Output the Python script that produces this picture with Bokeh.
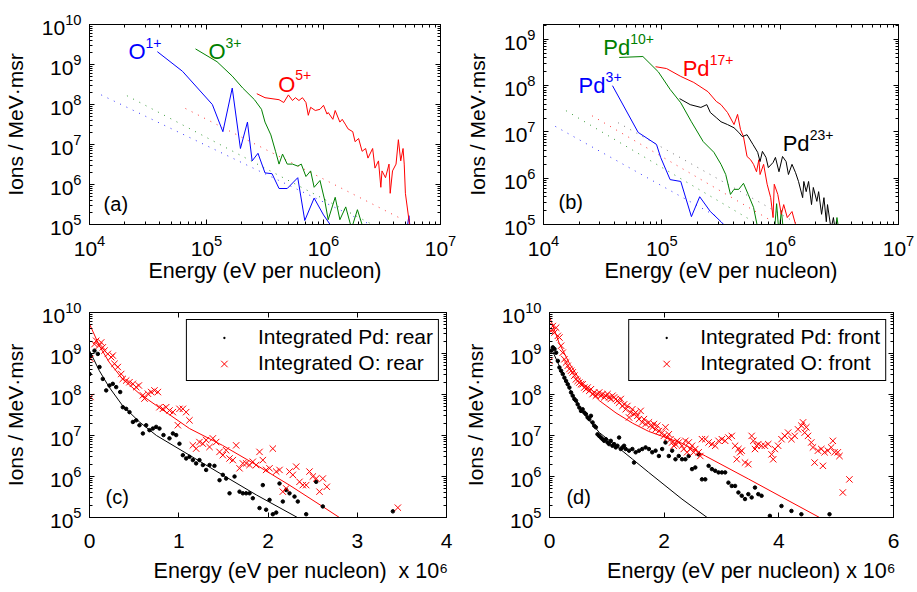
import numpy as np
from bokeh.plotting import figure
from bokeh.models import (LogAxis, LinearAxis, Label, Legend, LegendItem, FixedTicker, Range1d)
from bokeh.layouts import column, row
from bokeh.embed import file_html
from bokeh.resources import INLINE

# ---------------- data ----------------
# Panel (a): oxygen charge states, log10(E [eV/nucleon]) and log10(ions / MeV msr)
a_O1_logE = [4.58, 4.795, 5.05, 5.14, 5.22, 5.29, 5.35, 5.39, 5.44, 5.50, 5.56, 5.62, 5.69, 5.78, 5.84,
             5.92, 6.0, 6.08, 6.4, 6.70, 6.73, 6.75]
a_O1_logI = [9.32, 8.83, 8.0, 7.32, 8.41, 6.90, 7.56, 6.59, 6.78, 6.29, 6.27, 5.90, 5.90, 6.17, 5.10,
             5.66, 5.24, 4.9, 4.0, 4.6, 5.22, 4.6]
a_O3_logE = [4.906, 5.09, 5.22, 5.31, 5.41, 5.47, 5.50, 5.55, 5.59, 5.62, 5.65, 5.69, 5.735, 5.78, 5.81,
             5.85, 5.89, 5.92, 5.97, 6.01, 6.04, 6.10, 6.14, 6.19, 6.24, 6.29, 6.34]
a_O3_logI = [9.39, 9.07, 8.71, 8.41, 8.12, 7.88, 7.56, 7.24, 6.83, 6.51, 6.76, 6.51, 6.51, 6.46, 6.51,
             6.20, 6.34, 5.93, 6.10, 5.61, 5.12, 5.68, 5.12, 5.44, 4.9, 5.37, 4.9]
a_O5_logE = [5.43, 5.50, 5.62, 5.66, 5.70, 5.735, 5.76, 5.79, 5.82, 5.85, 5.87, 5.89, 5.93, 5.97, 6.0,
             6.03, 6.04, 6.08, 6.10, 6.14, 6.16, 6.19, 6.21, 6.25, 6.27, 6.30, 6.33, 6.36, 6.38, 6.42,
             6.44, 6.47, 6.49, 6.50, 6.53, 6.56, 6.57, 6.59, 6.62, 6.64, 6.66, 6.68, 6.69, 6.70, 6.74]
a_O5_logI = [8.27, 8.17, 8.12, 8.05, 8.24, 8.10, 8.17, 8.10, 8.17, 8.05, 7.73, 7.93, 7.85, 7.88, 7.98,
             7.76, 7.80, 7.63, 7.85, 7.56, 7.63, 7.49, 7.39, 7.32, 7.07, 7.15, 6.83, 6.90, 6.66, 6.90,
             6.41, 6.59, 5.93, 6.34, 6.17, 6.51, 5.78, 6.34, 6.51, 7.12, 6.59, 6.90, 6.51, 5.78, 4.9]
# dotted reference lines (end points)
a_ref_O1_logE = [4.10, 6.40]; a_ref_O1_logI = [8.24, 5.0]
a_ref_O3_logE = [4.32, 6.45]; a_ref_O3_logI = [8.22, 4.95]
a_ref_O5_logE = [4.82, 6.68]; a_ref_O5_logI = [7.90, 5.12]

# Panel (b): palladium charge states
b_Pd3_logE = [4.583, 4.80, 4.955, 4.99, 5.07, 5.16, 5.25, 5.32, 5.41, 5.50, 5.60]
b_Pd3_logI = [8.00, 6.99, 6.73, 6.45, 5.97, 5.93, 5.17, 5.60, 5.28, 5.06, 4.8]
b_Pd10_logE = [4.64, 4.84, 4.97, 5.07, 5.16, 5.25, 5.35, 5.44, 5.50, 5.54, 5.58, 5.61, 5.65, 5.69, 5.73,
               5.775, 5.82, 5.95, 5.97, 5.99, 6.01, 6.03, 6.06, 6.46, 6.48, 6.50]
b_Pd10_logI = [8.61, 8.63, 8.30, 7.92, 7.63, 7.22, 6.79, 6.56, 6.30, 6.08, 5.65, 5.76, 5.76, 5.89, 5.65,
               5.37, 4.8, 4.8, 5.45, 4.8, 5.3, 4.8, 4.8, 4.8, 5.15, 4.8]
b_Pd17_logE = [4.947, 5.04, 5.16, 5.27, 5.39, 5.46, 5.50, 5.555, 5.61, 5.64, 5.665, 5.69, 5.72, 5.75, 5.775,
               5.80, 5.82, 5.83, 5.86, 5.89, 5.92, 5.94, 5.95, 5.98, 6.01, 6.03, 6.06, 6.10, 6.13, 6.16]
b_Pd17_logI = [8.41, 8.37, 8.20, 8.07, 7.87, 7.66, 7.59, 7.42, 7.16, 7.38, 7.05, 6.90, 6.47, 6.40, 6.30,
               6.14, 6.40, 6.08, 6.30, 5.87, 5.58, 5.15, 5.87, 5.65, 5.22, 5.43, 5.15, 5.28, 5.0, 4.8]
b_Pd23_logE = [5.15, 5.24, 5.33, 5.38, 5.41, 5.46, 5.50, 5.555, 5.61, 5.65, 5.68, 5.72, 5.77, 5.81, 5.83,
               5.85, 5.88, 5.90, 5.94, 5.96, 5.99, 6.02, 6.05, 6.07, 6.10, 6.13, 6.155, 6.19, 6.20, 6.22,
               6.24, 6.265, 6.28, 6.31, 6.325, 6.35, 6.37, 6.39, 6.40, 6.43, 6.45, 6.47]
b_Pd23_logI = [7.72, 7.59, 7.53, 7.59, 7.42, 7.31, 7.22, 7.16, 7.09, 6.99, 6.90, 6.94, 6.73, 6.56, 6.36,
               6.58, 6.45, 6.23, 6.34, 6.45, 6.14, 6.47, 6.36, 6.08, 6.30, 6.12, 5.93, 5.58, 5.93, 5.71,
               5.93, 5.43, 5.80, 5.50, 5.71, 5.22, 5.58, 5.06, 5.43, 4.9, 5.15, 4.8]
b_ref_Pd3_logE = [4.10, 5.48];  b_ref_Pd3_logI = [7.12, 5.15]
b_ref_Pd10_logE = [4.19, 5.775]; b_ref_Pd10_logI = [7.46, 5.06]
b_ref_Pd17_logE = [4.41, 5.94]; b_ref_Pd17_logI = [7.35, 5.06]
b_ref_Pd23_logE = [4.63, 6.16]; b_ref_Pd23_logI = [7.20, 5.0]

# Panel (c): integrated spectra, rear; energy in units of 1e6 eV/nucleon
c_Pd_E = [0.0, 0.01, 0.056, 0.093, 0.112, 0.149, 0.187, 0.224, 0.261, 0.299, 0.344, 0.373, 0.411, 0.448,
          0.486, 0.523, 0.560, 0.598, 0.635, 0.672, 0.710, 0.747, 0.784, 0.829, 0.896, 0.934, 0.971, 1.008,
          1.046, 1.083, 1.120, 1.158, 1.195, 1.232, 1.270, 1.307, 1.345, 1.40, 1.457, 1.494, 1.531, 1.569,
          1.625, 1.681, 1.718, 1.755, 1.793, 1.830, 1.905, 1.942, 1.979, 2.017, 2.054, 2.092, 2.129, 2.166,
          2.204, 2.241, 2.297, 2.334, 2.428, 2.540, 2.614, 3.399]
c_Pd_logI = [8.50, 8.95, 9.07, 8.99, 8.67, 8.38, 8.10, 8.22, 8.26, 8.18, 8.06, 7.69, 7.65, 7.57, 7.33,
             7.37, 7.25, 7.05, 7.25, 7.13, 7.17, 7.21, 7.17, 7.01, 6.93, 7.05, 7.01, 6.80, 6.52, 6.44,
             6.48, 6.40, 6.32, 6.40, 6.28, 6.16, 6.28, 6.26, 5.91, 6.04, 5.95, 5.59, 6.00, 5.63, 5.59,
             5.59, 5.59, 5.47, 5.23, 5.79, 5.19, 5.43, 5.08, 5.12, 5.83, 5.39, 5.67, 5.59, 5.51, 5.39,
             5.08, 5.87, 5.27, 5.15]
c_O_E = [0.011, 0.011, 0.056, 0.075, 0.105, 0.131, 0.149, 0.168, 0.205, 0.243, 0.261, 0.280, 0.317, 0.355,
         0.373, 0.411, 0.448, 0.486, 0.523, 0.553, 0.598, 0.616, 0.654, 0.691, 0.728, 0.766, 0.784, 0.822,
         0.859, 0.896, 0.934, 0.990, 1.008, 1.046, 1.083, 1.120, 1.158, 1.195, 1.232, 1.270, 1.307, 1.345,
         1.382, 1.419, 1.457, 1.494, 1.531, 1.569, 1.606, 1.643, 1.681, 1.718, 1.755, 1.793, 1.830, 1.867,
         1.905, 1.942, 1.979, 2.017, 2.054, 2.092, 2.129, 2.166, 2.204, 2.241, 2.278, 2.316, 2.353, 2.390,
         2.428, 2.465, 2.502, 2.540, 2.577, 2.614, 2.659, 3.455]
c_O_logI = [7.94, 8.87, 9.23, 9.31, 9.19, 9.27, 9.15, 9.07, 8.99, 8.91, 8.95, 8.75, 8.67, 8.50,
            8.38, 8.34, 8.30, 8.26, 8.18, 8.22, 7.98, 7.90, 8.02, 8.06, 8.10, 8.06, 7.69, 7.65,
            7.69, 7.61, 7.57, 7.25, 7.65, 7.65, 7.57, 7.37, 6.76, 6.68, 6.84, 6.80, 6.89, 6.72,
            6.93, 6.84, 6.60, 6.52, 6.64, 6.44, 6.40, 6.76, 6.20, 6.32, 6.32, 6.28, 6.36, 6.28,
            6.60, 6.40, 6.16, 6.20, 6.68, 6.12, 6.16, 5.63, 5.71, 6.12, 6.04, 6.24, 5.87, 5.79,
            5.79, 6.12, 6.00, 5.95, 5.63, 5.95, 5.75, 5.24]
c_fitPd_E = [0.0, 0.11, 0.22, 0.37, 0.56, 0.75, 1.12, 1.49, 1.87, 2.33, 2.5]
c_fitPd_logI = [9.07, 8.58, 8.18, 7.73, 7.33, 7.0, 6.52, 6.04, 5.55, 5.0, 4.8]
c_fitO_E = [0.0, 0.11, 0.22, 0.37, 0.56, 0.75, 1.12, 1.49, 1.87, 2.24, 2.61, 2.80, 2.9]
c_fitO_logI = [9.72, 9.19, 8.79, 8.38, 8.02, 7.73, 7.17, 6.76, 6.28, 5.79, 5.27, 5.0, 4.86]

# Panel (d): integrated spectra, front
d_Pd_E = [0.029, 0.058, 0.087, 0.116, 0.145, 0.173, 0.202, 0.231, 0.260, 0.289, 0.318, 0.347, 0.376, 0.405,
          0.434, 0.462, 0.491, 0.520, 0.549, 0.578, 0.607, 0.636, 0.665, 0.694, 0.723, 0.751, 0.780, 0.809,
          0.838, 0.867, 0.896, 0.925, 0.954, 0.983, 1.012, 1.040, 1.069, 1.098, 1.127, 1.156, 1.185, 1.214,
          1.243, 1.272, 1.301, 1.329, 1.387, 1.445, 1.474, 1.503, 1.561, 1.618, 1.676, 1.734, 1.792, 1.850,
          1.908, 1.965, 2.023, 2.081, 2.139, 2.197, 2.254, 2.312, 2.370, 2.428, 2.486, 2.543, 2.601, 2.659,
          2.717, 2.775, 2.832, 2.890, 2.948, 3.006, 3.064, 3.121, 3.179, 3.237, 3.295, 3.353, 3.410, 3.468,
          3.526, 3.584, 3.642, 3.699, 3.844, 4.046, 4.220, 4.393, 4.884]
d_Pd_logI = [9.07, 9.15, 9.11, 9.02, 8.82, 8.66, 8.58, 8.50, 8.41, 8.33, 8.25, 8.17, 8.05, 7.97,
             7.89, 7.85, 7.76, 7.68, 7.60, 7.64, 7.56, 7.52, 7.44, 7.40, 7.48, 7.32, 7.24, 7.20,
             7.03, 6.99, 6.95, 6.91, 6.87, 6.91, 6.83, 6.79, 6.87, 6.75, 6.79, 6.71, 6.75, 6.95,
             6.67, 6.71, 6.75, 6.67, 6.63, 6.67, 6.34, 6.59, 6.63, 6.67, 6.71, 6.67, 6.59, 6.63,
             6.50, 6.67, 6.83, 6.50, 6.63, 6.42, 6.50, 6.42, 6.42, 6.50, 6.18, 6.22, 6.54, 5.93,
             5.93, 6.26, 6.18, 6.14, 6.10, 6.10, 6.10, 5.85, 5.77, 5.77, 5.61, 5.53, 5.45, 5.57,
             5.49, 5.73, 5.57, 5.53, 5.04, 5.28, 5.16, 5.08, 5.08]
d_O_E = [0.0, 0.029, 0.058, 0.087, 0.116, 0.145, 0.173, 0.202, 0.231, 0.260, 0.289, 0.318, 0.347, 0.376,
         0.405, 0.434, 0.462, 0.491, 0.520, 0.549, 0.578, 0.607, 0.636, 0.665, 0.694, 0.723, 0.751, 0.780,
         0.809, 0.838, 0.867, 0.896, 0.925, 0.954, 0.983, 1.012, 1.040, 1.069, 1.098, 1.127, 1.156, 1.185,
         1.214, 1.243, 1.272, 1.301, 1.329, 1.358, 1.387, 1.416, 1.445, 1.474, 1.503, 1.532, 1.561, 1.590,
         1.618, 1.647, 1.676, 1.734, 1.763, 1.792, 1.821, 1.850, 1.879, 1.908, 1.965, 1.994, 2.023, 2.052,
         2.081, 2.110, 2.139, 2.168, 2.197, 2.225, 2.254, 2.312, 2.341, 2.370, 2.399, 2.428, 2.457, 2.486,
         2.514, 2.543, 2.601, 2.630, 2.659, 2.717, 2.775, 2.832, 2.890, 2.948, 3.006, 3.064, 3.121, 3.179,
         3.237, 3.266, 3.295, 3.324, 3.353, 3.410, 3.468, 3.526, 3.555, 3.584, 3.613, 3.642, 3.699, 3.757,
         3.815, 3.873, 3.902, 3.931, 3.988, 4.046, 4.104, 4.162, 4.220, 4.277, 4.335, 4.393, 4.422, 4.451,
         4.480, 4.509, 4.566, 4.595, 4.624, 4.682, 4.740, 4.769, 4.798, 4.855, 4.913, 4.942, 4.971, 5.029,
         5.058, 5.116, 5.231]
d_O_logI = [8.82, 9.55, 9.67, 9.51, 9.63, 9.43, 9.39, 9.19, 9.02, 8.86, 8.78, 8.70, 8.62, 8.58,
            8.54, 8.46, 8.37, 8.33, 8.29, 8.25, 8.25, 8.17, 8.13, 8.17, 8.09, 8.13, 8.01, 8.05,
            7.97, 8.01, 8.05, 7.97, 8.01, 7.93, 7.97, 8.01, 7.93, 7.89, 7.97, 7.93, 7.89, 7.85,
            7.80, 7.89, 7.72, 7.76, 7.64, 7.72, 7.44, 7.56, 7.64, 7.52, 7.56, 7.48, 7.40, 7.60,
            7.32, 7.40, 7.28, 7.32, 7.24, 7.20, 7.28, 7.15, 7.24, 7.11, 7.07, 6.99, 7.20, 6.95,
            7.03, 6.91, 6.83, 6.75, 6.79, 6.87, 6.83, 6.75, 6.67, 6.87, 6.59, 6.83, 6.67, 6.75,
            6.59, 6.67, 6.59, 6.50, 6.91, 6.91, 6.83, 6.79, 6.75, 6.87, 6.91, 6.87, 6.95, 6.99,
            6.75, 6.42, 6.67, 6.59, 6.63, 6.34, 6.30, 6.99, 6.87, 6.67, 6.75, 6.79, 6.75, 6.75,
            6.79, 6.54, 6.42, 6.67, 6.75, 6.91, 6.99, 7.07, 6.91, 6.99, 7.15, 7.24, 7.32, 7.07,
            7.20, 6.99, 6.83, 6.71, 6.34, 6.63, 6.67, 6.26, 6.59, 6.63, 6.71, 6.87, 6.59, 6.59,
            6.50, 5.61, 5.93]
d_fitPd_E = [0.05, 0.17, 0.35, 0.58, 0.87, 1.16, 1.45, 1.73, 2.31, 2.75, 2.9]
d_fitPd_logI = [9.07, 8.70, 8.13, 7.56, 7.07, 6.75, 6.42, 6.10, 5.45, 5.0, 4.85]
d_fitO_E = [0.0, 0.17, 0.35, 0.58, 0.87, 1.16, 1.45, 1.73, 2.31, 2.72, 3.47, 4.05, 4.71, 4.85]
d_fitO_logI = [9.9, 9.25, 8.75, 8.25, 7.85, 7.55, 7.3, 7.1, 6.81, 6.50, 5.94, 5.5, 5.0, 4.9]

# ---------------- styling ----------------
FONT = "Liberation Sans"
BLUE, GREEN, RED, BLACK = "#0000ff", "#008000", "#ff0000", "#000000"
YLABEL = "Ions / MeV\u00b7msr"
XLABEL = "Energy (eV per nucleon)"
NBSP = "\u00a0"


def p10(a):
    return 10.0 ** np.asarray(a, dtype=float)


def log_ticker(lo, hi):
    major = [10.0 ** e for e in range(lo, hi + 1)]
    minor = [m * 10.0 ** e for e in range(lo - 1, hi + 1) for m in range(2, 10)]
    return FixedTicker(ticks=major, minor_ticks=minor)


def make_panel(width, height, borders, xlog, xr, yr, ymax_exp, xticks=None, scale=None):
    bl, br, bt, bb = borders
    p = figure(width=width, height=height,
               x_axis_type="log" if xlog else "linear", y_axis_type="log",
               x_range=Range1d(*xr), y_range=Range1d(*yr),
               output_backend="svg", toolbar_location=None,
               min_border_left=bl, min_border_right=br, min_border_top=bt, min_border_bottom=bb,
               background_fill_color="white", border_fill_color="white")
    p.xgrid.visible = False
    p.ygrid.visible = False
    p.outline_line_color = "black"
    p.outline_line_width = 1
    p.outline_line_alpha = 1
    xt = log_ticker(4, 7) if xlog else FixedTicker(ticks=xticks, minor_ticks=[])
    yt = log_ticker(5, ymax_exp)
    bottom = p.xaxis[0]
    left = p.yaxis[0]
    bottom.ticker = xt
    left.ticker = yt
    top = LogAxis(ticker=xt) if xlog else LinearAxis(ticker=xt)
    right = LogAxis(ticker=yt)
    p.add_layout(top, "above")
    p.add_layout(right, "right")
    for ax in (bottom, left, top, right):
        ax.major_tick_in = 5
        ax.major_tick_out = 0
        ax.minor_tick_in = 3
        ax.minor_tick_out = 0
        ax.axis_line_color = "black"
        ax.major_tick_line_color = "black"
        ax.minor_tick_line_color = "black"
        ax.major_label_text_font = FONT
        ax.major_label_text_font_size = "21px"
        ax.major_label_text_color = "black"
        ax.axis_label_text_font = FONT
        ax.axis_label_text_font_style = "normal"
        ax.axis_label_text_color = "black"
    for ax in (top, right):
        ax.major_label_text_font_size = "1px"
        ax.major_label_text_alpha = 0
        ax.major_label_standoff = 0
    if scale is None:
        bottom.axis_label = XLABEL
    else:
        # label stays centred on the frame; leading no-break spaces push it right so that
        # the "x 10^6" multiplier ends at the right edge of the axis
        lead, gap = scale
        bottom.axis_label = NBSP * lead + XLABEL + NBSP * gap + "x 10\u2076"
    bottom.axis_label_text_font_size = "21.5px"
    left.axis_label = YLABEL
    left.axis_label_text_font_size = "21px"
    left.major_label_standoff = 8
    left.axis_label_standoff = 12
    if xlog:
        bottom.major_label_standoff = 10
        bottom.axis_label_standoff = 0
    else:
        bottom.major_label_standoff = 16
        bottom.axis_label_standoff = 8
    return p


def text(p, x, y, s, color="black", size="20px", xo=0, yo=0):
    p.add_layout(Label(x=x, y=y, x_offset=xo, y_offset=yo, text=s, text_font=FONT,
                       text_font_size=size, text_color=color, text_baseline="alphabetic",
                       text_align="left"))


def ion(p, x, y, base, sup, color, w):
    text(p, x, y, base, color, "22px")
    text(p, x, y, sup, color, "14px", xo=w, yo=9)


# ---------------- panel (a) ----------------
pa = make_panel(460, 290, (89, 20, 19, 66), True, (1e4, 1e7), (1e5, 1e10), 10)
for lx, ly, c in ((a_ref_O1_logE, a_ref_O1_logI, BLUE), (a_ref_O3_logE, a_ref_O3_logI, GREEN),
                  (a_ref_O5_logE, a_ref_O5_logI, RED)):
    pa.line(p10(lx), p10(ly), line_color=c, line_width=1, line_dash="1 6", line_alpha=0.8)
pa.line(p10(a_O1_logE), p10(a_O1_logI), line_color=BLUE, line_width=1)
pa.line(p10(a_O3_logE), p10(a_O3_logI), line_color=GREEN, line_width=1)
pa.line(p10(a_O5_logE), p10(a_O5_logI), line_color=RED, line_width=1)
ion(pa, 2.15e4, 2.1e9, "O", "1+", BLUE, 17)
ion(pa, 1.04e5, 2.1e9, "O", "3+", GREEN, 17)
ion(pa, 4.1e5, 3.2e8, "O", "5+", RED, 17)
text(pa, 1.32e4, 3.2e5, "(a)")

# ---------------- panel (b) ----------------
pb = make_panel(457, 290, (83, 19, 24, 66), True, (1e4, 1e7), (1e5, 2.1e9), 9)
for lx, ly, c in ((b_ref_Pd3_logE, b_ref_Pd3_logI, BLUE), (b_ref_Pd10_logE, b_ref_Pd10_logI, GREEN),
                  (b_ref_Pd17_logE, b_ref_Pd17_logI, RED), (b_ref_Pd23_logE, b_ref_Pd23_logI, "#555555")):
    pb.line(p10(lx), p10(ly), line_color=c, line_width=1, line_dash="1 6", line_alpha=0.8)
pb.line(p10(b_Pd3_logE), p10(b_Pd3_logI), line_color=BLUE, line_width=1)
pb.line(p10(b_Pd10_logE), p10(b_Pd10_logI), line_color=GREEN, line_width=1)
pb.line(p10(b_Pd17_logE), p10(b_Pd17_logI), line_color=RED, line_width=1)
pb.line(p10(b_Pd23_logE), p10(b_Pd23_logI), line_color=BLACK, line_width=1)
ion(pb, 1.98e4, 1.0e8, "Pd", "3+", BLUE, 27)
ion(pb, 3.2e4, 6.6e8, "Pd", "10+", GREEN, 27)
ion(pb, 1.5e5, 2.3e8, "Pd", "17+", RED, 27)
ion(pb, 1.05e6, 5.6e6, "Pd", "23+", BLACK, 27)
text(pb, 1.34e4, 3.0e5, "(b)")


# ---------------- panels (c), (d) ----------------
def integrated(p, pdE, pdI, oE, oI, fpE, fpI, foE, foI, tag, xr):
    p.line(fpE, p10(fpI), line_color=BLACK, line_width=1)
    p.line(foE, p10(foI), line_color=RED, line_width=1)
    p.scatter(pdE, p10(pdI), marker="circle", size=3.5, fill_color=BLACK, line_color=BLACK)
    r_o = p.scatter(oE, p10(oI), marker="x", size=9, line_color=RED, line_width=1)
    # legend proxy for the small dots (kept outside the visible range)
    r_dot = p.scatter([xr[1] * 2], [1.0], marker="dot", size=14, line_color=BLACK, fill_color=BLACK,
                      line_width=1.5)
    leg = Legend(items=[LegendItem(label="Integrated Pd: " + tag, renderers=[r_dot]),
                        LegendItem(label="Integrated O: " + tag, renderers=[r_o])],
                 location="top_right", margin=7, padding=5, spacing=2,
                 glyph_width=64, glyph_height=23, label_height=23, label_standoff=2,
                 label_text_font=FONT, label_text_font_size="21px", label_text_color="black",
                 border_line_color="black", border_line_width=1, border_line_alpha=1,
                 background_fill_color="white", background_fill_alpha=1)
    p.add_layout(leg)


pc = make_panel(460, 302, (89, 14, 21, 75), False, (0, 4), (1e5, 1e10), 10, xticks=[0, 1, 2, 3, 4],
                scale=(11, 2))
integrated(pc, c_Pd_E, c_Pd_logI, c_O_E, c_O_logI, c_fitPd_E, c_fitPd_logI, c_fitO_E, c_fitO_logI,
           "rear", (0, 4))
text(pc, 0.18, 3.1e5, "(c)")

pd = make_panel(457, 302, (87, 24, 22, 75), False, (0, 6), (1e5, 1e10), 10, xticks=[0, 2, 4, 6],
                scale=(10, 1))
integrated(pd, d_Pd_E, d_Pd_logI, d_O_E, d_O_logI, d_fitPd_E, d_fitPd_logI, d_fitO_E, d_fitO_logI,
           "front", (0, 6))
text(pd, 0.295, 3.1e5, "(d)")

layout = column(row(pa, pb), row(pc, pd))
open("out.html", "w").write(file_html(layout, INLINE))
